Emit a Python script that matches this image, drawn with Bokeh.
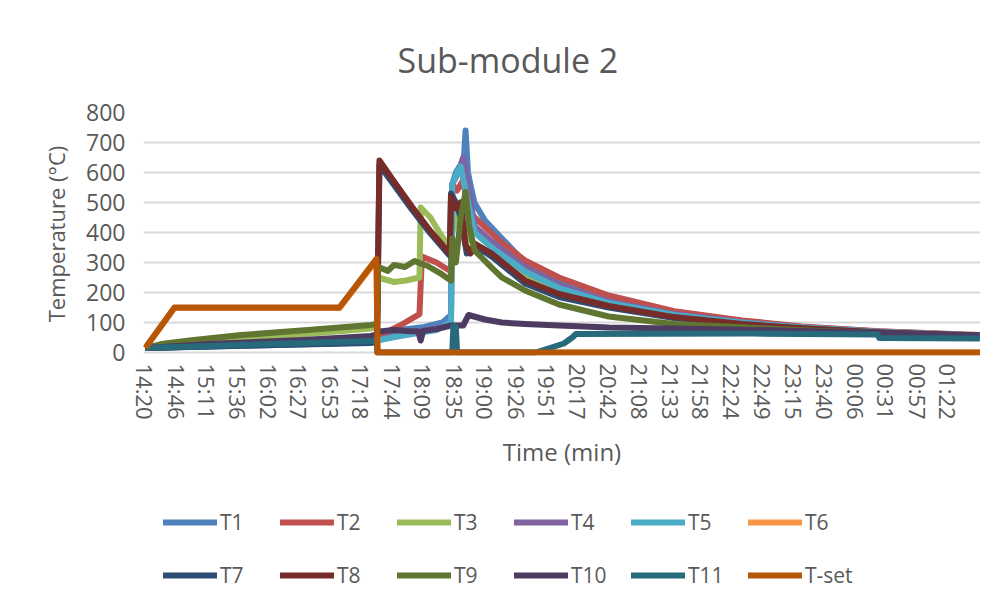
from bokeh.plotting import figure
from bokeh.layouts import column
from bokeh.models import FixedTicker, Legend, LegendItem, Range1d
from bokeh.embed import file_html
from bokeh.resources import INLINE

FONT = "Open Sans"
TXT = "#595959"

# x-axis category labels (clock time)
tick_labels = ["14:20", "14:46", "15:11", "15:36", "16:02", "16:27", "16:53",
               "17:18", "17:44", "18:09", "18:35", "19:00", "19:26", "19:51",
               "20:17", "20:42", "21:08", "21:33", "21:58", "22:24", "22:49",
               "23:15", "23:40", "00:06", "00:31", "00:57", "01:22"]

# series: time (minutes after 14:20) and temperature (°C)
t_T1 = [0, 186, 191, 193, 210, 230, 245, 252, 253, 256, 259, 262, 264, 266, 268, 271.5, 280, 294, 313, 341, 382, 436, 492, 541, 605, 688]
T1 = [15, 33, 35, 50, 75, 85, 100, 125, 560, 600, 620, 600, 740, 600, 560, 497, 440, 380, 300, 235, 185, 135, 105, 85, 70, 57]

t_T2 = [0, 186, 191, 195, 210, 226, 228, 240, 252, 253, 257, 262, 266, 271.5, 285.5, 294, 313, 341, 382, 436, 492, 541, 605, 688]
T2 = [15, 38, 40, 60, 90, 128, 320, 300, 270, 560, 540, 575, 480, 450, 397, 365, 307, 250, 190, 138, 107, 87, 71, 58]

t_T3 = [0, 186, 191, 192, 205, 215, 226, 227, 235, 244, 252, 253, 258, 262, 266, 271.5, 285.5, 313, 341, 382, 436, 492, 541, 605, 688]
T3 = [15, 80, 88, 250, 235, 240, 250, 483, 450, 390, 345, 400, 470, 430, 380, 360, 320, 260, 215, 165, 125, 100, 83, 69, 57]

t_T4 = [0, 186, 191, 210, 240, 252, 253, 258, 262, 265, 271.5, 285.5, 313, 341, 382, 436, 492, 541, 605, 688]
T4 = [15, 35, 40, 60, 80, 95, 560, 600, 650, 580, 420, 370, 285, 225, 170, 128, 101, 84, 69, 57]

t_T5 = [0, 186, 191, 210, 240, 252, 253, 257, 260, 263, 266, 271.5, 285.5, 313, 341, 382, 436, 492, 541, 605, 688]
T5 = [15, 34, 40, 55, 75, 100, 560, 600, 620, 560, 500, 400, 350, 270, 215, 165, 125, 99, 83, 68, 56]

t_T6 = [0, 24, 160, 190.6, 191.4, 688]
T6 = [15, 148, 148, 308, 0, 0]

t_T7 = [0, 186, 191, 193, 205, 220, 235, 251, 252, 256, 260, 265, 271.5, 280, 285.5, 313, 341, 382, 436, 492, 541, 605, 688]
T7 = [15, 32, 35, 625, 558, 475, 397, 322, 530, 500, 450, 330, 340, 335, 320, 230, 185, 150, 115, 93, 80, 67, 56]

t_T8 = [0, 186, 191, 193, 205, 220, 235, 251, 252, 256, 260, 264, 268, 271.5, 285.5, 313, 341, 382, 436, 492, 541, 605, 688]
T8 = [15, 45, 50, 640, 570, 485, 405, 330, 520, 480, 500, 360, 330, 363, 330, 240, 195, 155, 118, 95, 81, 67, 56]

t_T9 = [0, 13, 40, 79, 134, 186, 191, 192, 200, 205, 214, 222, 226, 232, 244, 252, 253, 256, 260, 264, 267, 271.5, 285.5, 294, 313, 341, 382, 436, 492, 541, 605, 688]
T9 = [15, 28, 42, 58, 75, 92, 95, 285, 272, 292, 285, 305, 298, 290, 262, 240, 380, 300, 450, 535, 420, 340, 283, 250, 207, 160, 120, 95, 84, 74, 64, 54]

t_T10 = [0, 60, 130, 186, 191, 193, 205, 215, 225, 227, 229, 240, 252, 262, 266.5, 280, 294, 313, 341, 382, 436, 492, 541, 605, 688]
T10 = [15, 30, 42, 55, 60, 70, 75, 72, 70, 40, 72, 78, 90, 90, 125, 110, 100, 95, 90, 83, 80, 76, 72, 65, 57]

t_T11 = [0, 79, 186, 190.6, 191.4, 253, 254, 256, 257, 322, 345, 352, 355, 500, 604, 605, 688]
T11 = [15, 25, 38, 40, 0, 0, 90, 85, 0, 0, 30, 50, 62, 63, 60, 48, 47]

t_Tset = [0, 24, 160, 190.6, 191.4, 688]
Tset = [15, 150, 150, 312, 0, 0]

y_ticks = [0, 100, 200, 300, 400, 500, 600, 700, 800]

series = [
    ("T1", t_T1, T1, "#4F81BD"),
    ("T2", t_T2, T2, "#C0504D"),
    ("T3", t_T3, T3, "#9BBB59"),
    ("T4", t_T4, T4, "#8064A2"),
    ("T5", t_T5, T5, "#4BACC6"),
    ("T6", t_T6, T6, "#F79646"),
    ("T7", t_T7, T7, "#2C4D75"),
    ("T8", t_T8, T8, "#772C2A"),
    ("T9", t_T9, T9, "#5F7530"),
    ("T10", t_T10, T10, "#4D3B62"),
    ("T11", t_T11, T11, "#276A7C"),
    ("T-set", t_Tset, Tset, "#B65708"),
]


def minutes(lbl):
    h, m = map(int, lbl.split(":"))
    t = h * 60 + m - (14 * 60 + 20)
    if t < 0:
        t += 24 * 60
    return t


tick_pos = [minutes(l) for l in tick_labels]

p = figure(frame_width=837, frame_height=243,
           x_range=Range1d(-1.5, 688.5), y_range=Range1d(-10, 800),
           output_backend="svg", toolbar_location=None,
           min_border_left=143, min_border_right=9,
           min_border_top=112, min_border_bottom=125,
           background_fill_color="white", border_fill_color="white")
p.outline_line_color = None

p.title.text = "Sub-module 2"
p.title.text_font = FONT
p.title.text_font_size = "34px"
p.title.text_font_style = "normal"
p.title.text_color = TXT
p.title.align = "left"
p.title.offset = 254
p.title.standoff = 59

# grid
p.xgrid.visible = False
p.ygrid.ticker = FixedTicker(ticks=y_ticks)
p.ygrid.grid_line_color = "#D9D9D9"
p.ygrid.grid_line_width = 2

# y axis
ya = p.yaxis[0]
ya.ticker = FixedTicker(ticks=y_ticks)
ya.axis_line_color = None
ya.major_tick_line_color = None
ya.minor_tick_line_color = None
ya.major_label_text_font = FONT
ya.major_label_text_font_size = "23px"
ya.major_label_text_color = TXT
ya.major_label_standoff = 12
ya.axis_label = "Temperature (°C)"
ya.axis_label_text_font = FONT
ya.axis_label_text_font_size = "22px"
ya.axis_label_text_font_style = "normal"
ya.axis_label_text_color = TXT
ya.axis_label_standoff = 12

# x axis
xa = p.xaxis[0]
xa.ticker = FixedTicker(ticks=tick_pos)
xa.major_label_overrides = {pos: lbl for pos, lbl in zip(tick_pos, tick_labels)}
xa.major_label_orientation = "vertical"
xa.axis_line_color = None
xa.major_tick_line_color = None
xa.minor_tick_line_color = None
xa.major_label_text_font = FONT
xa.major_label_text_font_size = "22px"
xa.major_label_text_color = TXT
xa.major_label_standoff = 2
xa.axis_label = "Time (min)"
xa.axis_label_text_font = FONT
xa.axis_label_text_font_size = "24px"
xa.axis_label_text_font_style = "normal"
xa.axis_label_text_color = TXT
xa.axis_label_standoff = 12

for name, t, v, col in series:
    p.line(t, v, line_width=6, line_color=col, line_join="round")

# legend strip below the chart: the same series drawn outside its view range,
# so only their legend entries show
lf = figure(frame_width=837, frame_height=120,
            x_range=Range1d(-3, -2), y_range=Range1d(-3, -2),
            x_axis_type=None, y_axis_type=None,
            min_border_left=143, min_border_right=9,
            min_border_top=0, min_border_bottom=0,
            output_backend="svg", toolbar_location=None,
            background_fill_color="white", border_fill_color="white")
lf.outline_line_color = None
lf.xgrid.visible = False
lf.ygrid.visible = False

items = []
for name, t, v, col in series:
    r = lf.line(t, v, line_width=6, line_color=col, line_cap="round")
    items.append(LegendItem(label=name, renderers=[r]))

legend = Legend(items=items, ncols=6, orientation="horizontal",
                location=(20, 5),
                glyph_width=54, glyph_height=40, label_height=40,
                label_width=47, label_standoff=3, spacing=13, padding=0,
                margin=0,
                label_text_font=FONT, label_text_font_size="21px",
                label_text_color=TXT,
                background_fill_alpha=0, border_line_color=None)
lf.add_layout(legend, "center")

layout = column(p, lf, spacing=0)
open("out.html", "w").write(file_html(layout, INLINE))
